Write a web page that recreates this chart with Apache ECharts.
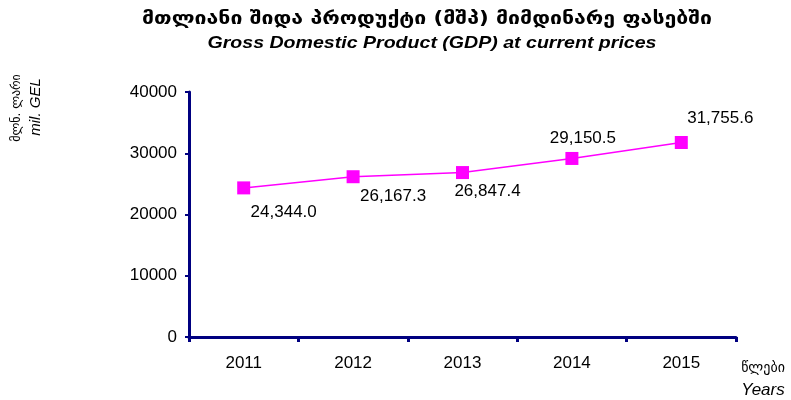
<!DOCTYPE html>
<html>
<head>
<meta charset="utf-8">
<script src="https://cdn.jsdelivr.net/npm/echarts@6/dist/echarts.min.js"></script>
<style>
  html, body { margin: 0; padding: 0; background: #fff; }
  #chart { width: 791px; height: 400px; }
</style>
</head>
<body>
<div id="chart"></div>
<script>
const years = ['2011', '2012', '2013', '2014', '2015'];
const gdp = [24344.0, 26167.3, 26847.4, 29150.5, 31755.6];
const yTicks = [0, 10000, 20000, 30000, 40000];
// label offsets per point, so they sit like in the original
const labelOffsets = [[40, 24], [40, 20], [25, 19], [11, -20], [39, -24]];

const titleKa = 'მთლიანი შიდა პროდუქტი (მშპ) მიმდინარე ფასებში';
const titleEn = 'Gross Domestic Product (GDP) at current prices';

const fmt = v => v.toLocaleString('en-US', { minimumFractionDigits: 1, maximumFractionDigits: 1 });

// the original title font is wide, so stretch the text horizontally to the same width
const ctx = document.createElement('canvas').getContext('2d');
function stretch(text, font, width) {
  ctx.font = font;
  return width / ctx.measureText(text).width;
}
const fontKa = 'bold 17px "DejaVu Sans"';
const fontEn = 'italic bold 17px "Liberation Sans"';

const chart = echarts.init(document.getElementById('chart'));
chart.setOption({
  animation: false,
  textStyle: { fontFamily: 'Liberation Sans, Arial, sans-serif' },
  grid: { left: 189, right: 55, top: 92, bottom: 63 },
  xAxis: {
    type: 'category',
    data: years,
    axisLine: { lineStyle: { color: '#000080', width: 3 } },
    axisTick: { show: true, length: 5, lineStyle: { color: '#000080', width: 3 } },
    axisLabel: { color: '#000', fontSize: 17, margin: 18 }
  },
  yAxis: {
    type: 'value',
    min: yTicks[0],
    max: yTicks[yTicks.length - 1],
    interval: 10000,
    splitLine: { show: false },
    axisLine: { show: true, lineStyle: { color: '#000080', width: 3 } },
    axisTick: { show: true, length: 4, lineStyle: { color: '#000080', width: 2 } },
    axisLabel: { color: '#000', fontSize: 17, margin: 12, formatter: v => String(v) }
  },
  graphic: [
    {
      type: 'text', x: 427, y: 20, scaleX: stretch(titleKa, fontKa, 570),
      style: { text: titleKa, font: fontKa, fill: '#000', align: 'center', verticalAlign: 'middle' }
    },
    {
      type: 'text', x: 432, y: 43, scaleX: stretch(titleEn, fontEn, 449),
      style: { text: titleEn, font: fontEn, fill: '#000', align: 'center', verticalAlign: 'middle' }
    },
    {
      type: 'text', x: 17, y: 108, rotation: Math.PI / 2,
      style: { text: 'მლნ. ლარი', font: '12px "DejaVu Sans"', fill: '#000', align: 'center', verticalAlign: 'middle' }
    },
    {
      type: 'text', x: 36, y: 107, rotation: Math.PI / 2,
      style: { text: 'mil. GEL', font: 'italic 15px "Liberation Sans"', fill: '#000', align: 'center', verticalAlign: 'middle' }
    },
    {
      type: 'text', x: 763, y: 368,
      style: { text: 'წლები', font: '14px "DejaVu Sans"', fill: '#000', align: 'center', verticalAlign: 'middle' }
    },
    {
      type: 'text', x: 763, y: 390,
      style: { text: 'Years', font: 'italic 17px "Liberation Sans"', fill: '#000', align: 'center', verticalAlign: 'middle' }
    }
  ],
  series: [{
    type: 'line',
    data: gdp.map((v, i) => ({
      value: v,
      label: { offset: labelOffsets[i] }
    })),
    symbol: 'rect',
    symbolSize: 13,
    lineStyle: { color: '#ff00ff', width: 1.5 },
    itemStyle: { color: '#ff00ff' },
    label: {
      show: true,
      position: 'inside',
      color: '#000',
      fontSize: 17,
      formatter: p => fmt(p.value)
    }
  }]
});
</script>
</body>
</html>
